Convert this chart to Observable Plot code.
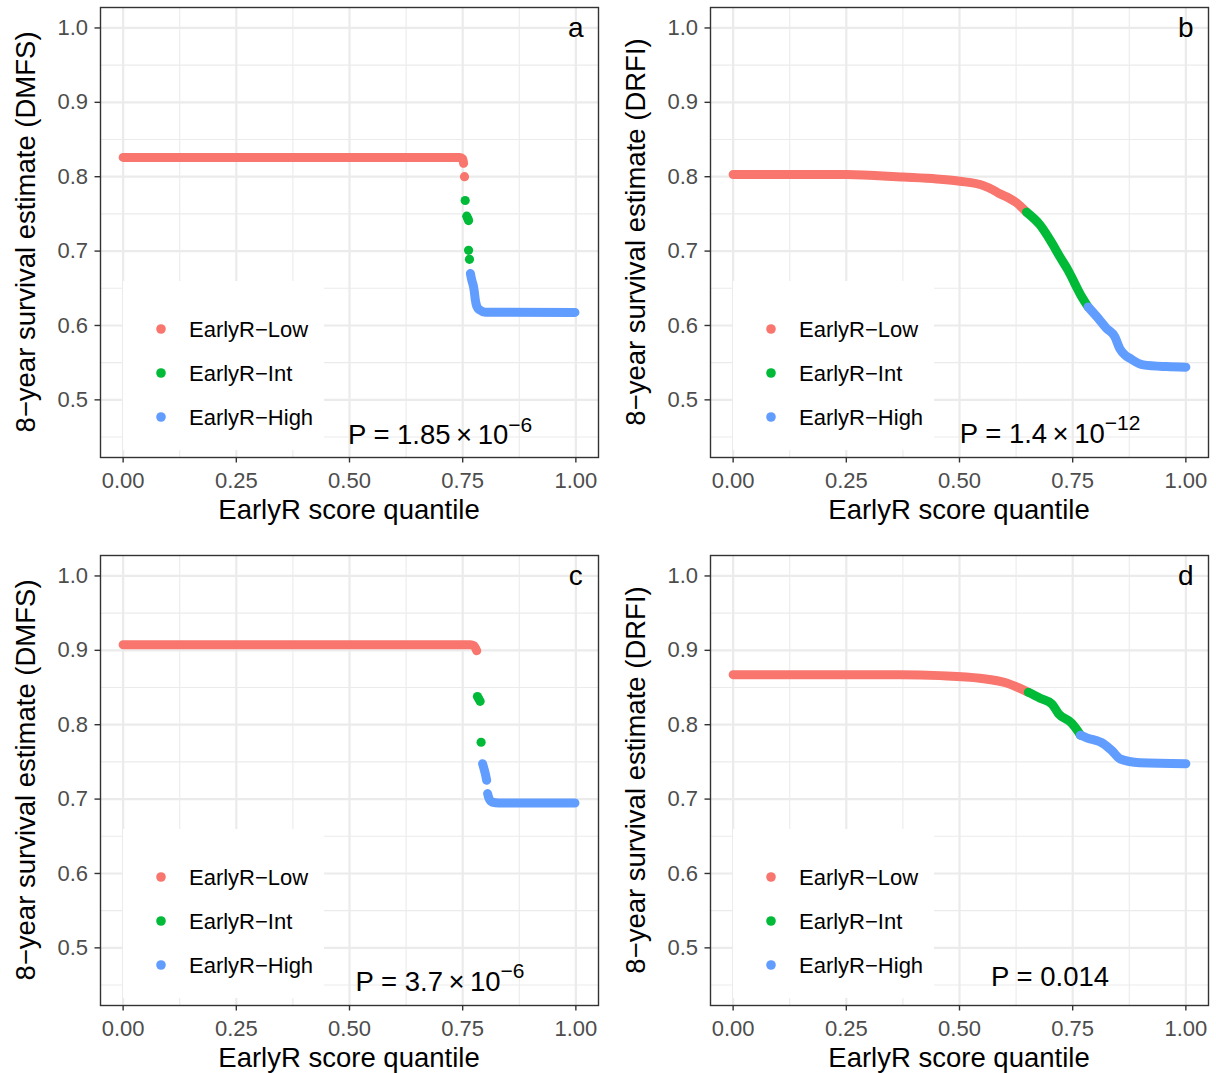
<!DOCTYPE html>
<html><head><meta charset="utf-8">
<script src="https://cdn.jsdelivr.net/npm/d3@7"></script>
<script src="https://cdn.jsdelivr.net/npm/@observablehq/plot@0.6"></script>
<style>
body{margin:0;background:#fff;}
#root{position:relative;width:1216px;height:1073px;overflow:hidden;background:#fff;}
.panel{position:absolute;}
</style></head><body><div id="root"></div>
<script>
const FONT = '"Liberation Sans", Arial, Helvetica, sans-serif';
const groups = ["EarlyR−Low", "EarlyR−Int", "EarlyR−High"];
const colors = ["#F8766D", "#00BA38", "#619CFF"];
const panelTags = ["a", "b", "c", "d"];
const yTitles = ["8−year survival estimate (DMFS)", "8−year survival estimate (DRFI)",
                 "8−year survival estimate (DMFS)", "8−year survival estimate (DRFI)"];
const xTitle = "EarlyR score quantile";
const pBase = ["P = 1.85\u2009×\u200910", "P = 1.4\u2009×\u200910", "P = 3.7\u2009×\u200910", "P = 0.014"];
const pExp = ["−6", "−12", "−6", ""];
const pX = [0.7, 0.7, 0.7, 0.7];
const pY = [0.452, 0.454, 0.454, 0.46];
const xTicks = [0, 0.25, 0.5, 0.75, 1];
const xMinor = [0.125, 0.375, 0.625, 0.875];
const yTicks = [0.5, 0.6, 0.7, 0.8, 0.9, 1.0];
const yMinor = [0.45, 0.55, 0.65, 0.75, 0.85, 0.95];

// Panel a (dense runs drawn as thick lines, sparse ones as dots)
const aCurveLow = [[0, 0.826], [0.744, 0.826], [0.750, 0.824], [0.752, 0.818]];
const aDotsLow = [[0.754, 0.800]];
const aDotsInt = [[0.7555, 0.768], [0.759, 0.747], [0.761, 0.744], [0.763, 0.741], [0.763, 0.701], [0.765, 0.689]];
const aCurveHigh = [[0.767, 0.670], [0.770, 0.661], [0.774, 0.652], [0.776, 0.644], [0.778, 0.634], [0.781, 0.626], [0.787, 0.621], [0.80, 0.6178], [0.998, 0.6176]];

// Panel b
const bCurveLow = [[0, 0.803], [0.25, 0.803], [0.376, 0.7995], [0.45, 0.797], [0.501, 0.794], [0.553, 0.788], [0.575, 0.782], [0.589, 0.777], [0.61, 0.771], [0.626, 0.765], [0.648, 0.7524]];
const bCurveInt = [[0.648, 0.7524], [0.678, 0.735], [0.703, 0.712], [0.722, 0.692], [0.740, 0.674], [0.755, 0.656], [0.770, 0.6385], [0.784, 0.625]];
const bCurveHigh = [[0.784, 0.625], [0.803, 0.612], [0.825, 0.596], [0.843, 0.585], [0.854, 0.569], [0.866, 0.560], [0.876, 0.556], [0.906, 0.547], [0.957, 0.5447], [1.0, 0.544]];

// Panel c
const cCurveLow = [[0, 0.9075], [0.767, 0.9075], [0.775, 0.906], [0.781, 0.8995]];
const cDotsInt = [[0.7826, 0.8378], [0.7855, 0.835], [0.7885, 0.8315], [0.7907, 0.7764]];
const cCurveHigh1 = [[0.794, 0.7476], [0.797, 0.741], [0.800, 0.734], [0.803, 0.7252]];
const cCurveHigh2 = [[0.805, 0.7075], [0.808, 0.701], [0.815, 0.696], [0.83, 0.6948], [0.998, 0.6948]];

// Panel d
const dCurveLow = [[0, 0.8673], [0.369, 0.8672], [0.457, 0.866], [0.545, 0.8625], [0.604, 0.856], [0.641, 0.8468], [0.652, 0.8436]];
const dCurveInt = [[0.652, 0.8436], [0.678, 0.8356], [0.704, 0.828], [0.719, 0.8146], [0.748, 0.802], [0.763, 0.790], [0.767, 0.786]];
const dCurveHigh = [[0.767, 0.786], [0.781, 0.7824], [0.818, 0.7744], [0.836, 0.7654], [0.855, 0.754], [0.898, 0.749], [1.0, 0.7476]];

const panels = [
  {runs: [[0, aCurveLow], [2, aCurveHigh]], dots: [[0, aDotsLow], [1, aDotsInt]]},
  {runs: [[0, bCurveLow], [1, bCurveInt], [2, bCurveHigh]], dots: []},
  {runs: [[0, cCurveLow], [2, cCurveHigh1], [2, cCurveHigh2]], dots: [[1, cDotsInt]]},
  {runs: [[0, dCurveLow], [1, dCurveInt], [2, dCurveHigh]], dots: []}
];

const root = document.getElementById("root");

panels.forEach((p, i) => {
  const row = Math.floor(i / 2), col = i % 2;
  const W = col === 0 ? 608 : 606;
  const H = 525;
  const mL = 100, mR = col === 0 ? 10 : 8, mT = 7, mB = 68;
  const lineRows = [];
  p.runs.forEach(([g, pts], r) => pts.forEach(([x, y]) => lineRows.push({x, y, g: groups[g], run: r})));
  const dotRows = [];
  p.dots.forEach(([g, pts]) => pts.forEach(([x, y]) => dotRows.push({x, y, g: groups[g]})));

  const svg = Plot.plot({
    width: W, height: H,
    marginLeft: mL, marginRight: mR, marginTop: mT, marginBottom: mB,
    style: {fontFamily: FONT, fontSize: "22px", background: "white", color: "black", overflow: "visible"},
    x: {domain: [-0.05, 1.05]},
    y: {domain: [0.4225, 1.0275]},
    color: {domain: groups, range: colors},
    marks: [
      Plot.gridX(xMinor, {stroke: "#EBEBEB", strokeOpacity: 1, strokeWidth: 1.1}),
      Plot.gridY(yMinor, {stroke: "#EBEBEB", strokeOpacity: 1, strokeWidth: 1.1}),
      Plot.gridX(xTicks, {stroke: "#EBEBEB", strokeOpacity: 1, strokeWidth: 2.2}),
      Plot.gridY(yTicks, {stroke: "#EBEBEB", strokeOpacity: 1, strokeWidth: 2.2}),
      Plot.line(lineRows, {x: "x", y: "y", z: "run", stroke: "g", strokeWidth: 9, strokeLinecap: "round", strokeLinejoin: "round", curve: "monotone-x"}),
      Plot.dot(dotRows, {x: "x", y: "y", fill: "g", r: 4.6, stroke: null}),
      Plot.text([{x: 1, y: 1, t: panelTags[i]}], {x: "x", y: "y", text: "t", fontSize: 28, textAnchor: "middle", lineAnchor: "middle", fill: "black"}),
      Plot.text([{x: pX[i], y: pY[i], t: pBase[i]}], {x: "x", y: "y", text: "t", fontSize: 27.5, textAnchor: "middle", lineAnchor: "middle", fill: "black"}),
      Plot.axisX(xTicks, {tickFormat: d3.format(".2f"), tickSize: 5.5, tickPadding: 9, fontSize: 22, stroke: "#333333", fill: "#4D4D4D", strokeWidth: 1.4, label: null}),
      Plot.axisY(yTicks, {tickFormat: d3.format(".1f"), tickSize: 5.5, tickPadding: 7, fontSize: 22, stroke: "#333333", fill: "#4D4D4D", strokeWidth: 1.4, label: null}),
      Plot.frame({stroke: "#333333", strokeWidth: 1.4})
    ]
  });

  const s = d3.select(svg);
  // superscript exponent for P value
  s.selectAll("text").each(function() {
    if (this.textContent === pBase[i] && pExp[i]) {
      d3.select(this).append("tspan").attr("dy", -12.6).attr("font-size", 21).text(pExp[i]);
    }
  });
  // axis titles
  s.append("text").attr("x", (mL + W - mR) / 2).attr("y", 519).attr("text-anchor", "middle")
    .attr("font-size", 27.5).attr("font-family", FONT).attr("fill", "black").text(xTitle);
  s.append("text").attr("transform", `translate(35,${(mT + H - mB) / 2}) rotate(-90)`).attr("text-anchor", "middle")
    .attr("font-size", 27.5).attr("font-family", FONT).attr("fill", "black").text(yTitles[i]);
  // legend
  const lg = s.append("g").attr("text-anchor", "start");
  lg.append("rect").attr("x", 123).attr("y", 281).attr("width", 201).attr("height", 169).attr("fill", "white");
  groups.forEach((g, k) => {
    lg.append("circle").attr("cx", 161).attr("cy", 329 + 44 * k).attr("r", 4.8).attr("fill", colors[k]);
    lg.append("text").attr("x", 189).attr("y", 329 + 44 * k).attr("dy", "0.35em").attr("font-size", 22)
      .attr("text-anchor", "start").attr("font-family", FONT).attr("fill", "black").text(g);
  });

  const div = document.createElement("div");
  div.className = "panel";
  div.style.left = (col * 610) + "px";
  div.style.top = (row * 548) + "px";
  div.appendChild(svg);
  root.appendChild(div);
});
</script></body></html>
